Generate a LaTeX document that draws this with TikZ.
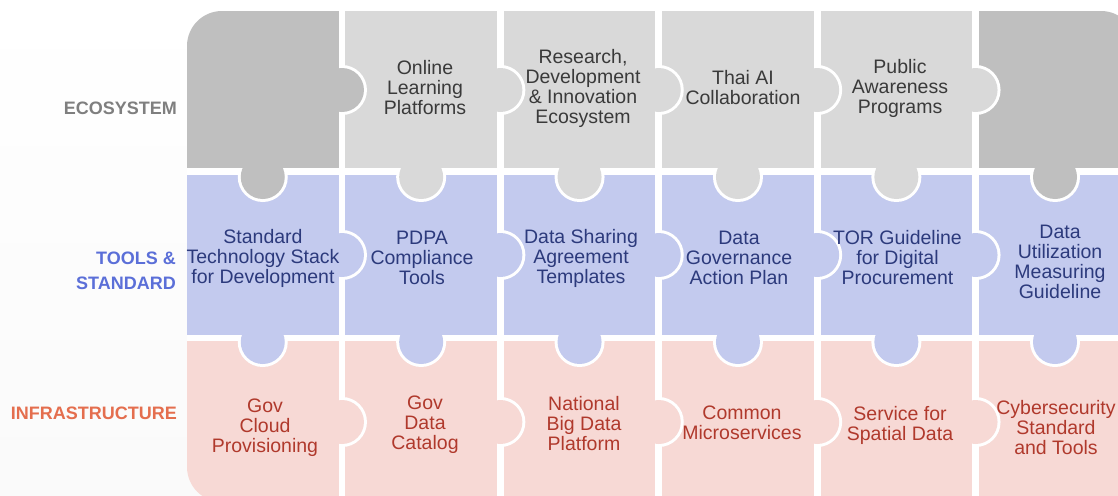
\documentclass[tikz,border=0pt]{standalone}
\usepackage{fontspec}
\setmainfont{Liberation Sans}
\definecolor{dgray}{HTML}{BFBFBF}
\definecolor{lgray}{HTML}{D9D9D9}
\definecolor{blu}{HTML}{C3CAEE}
\definecolor{pnk}{HTML}{F7D9D5}
\definecolor{tone}{HTML}{3A3A3A}
\definecolor{ttwo}{HTML}{2C3A7C}
\definecolor{tthree}{HTML}{B0392C}
\definecolor{lone}{HTML}{7F7F7F}
\definecolor{ltwo}{HTML}{5B6FD8}
\definecolor{lthree}{HTML}{E46E4E}
% horizontal knob: #1 gap centre x, #2 y, #3 colour, #4 source right edge
\newcommand\hknob[4]{%
  \fill[white] (#1,#2) circle (25pt);
  \fill[#3] (#1-26,#2-26) rectangle (#4,#2+26);
  \fill[#3] (#1,#2) circle (22pt);
  \fill[#3] (#4-1,#2-20) rectangle (#1,#2+20);
}
% vertical knob: #1 x, #2 centre y, #3 colour, #4 source bottom edge
\newcommand\vknob[4]{%
  \fill[white] (#1,#2) circle (25pt);
  \fill[#3] (#1-26,#2-26) rectangle (#1+26,#4);
  \fill[#3] (#1,#2) circle (22pt);
  \fill[#3] (#1-20,#4-1) rectangle (#1+20,#2);
}
\begin{document}
\begin{tikzpicture}[x=1pt,y=-1pt,
  txt/.style={align=center,inner sep=0pt,font=\fontsize{19.5}{20}\selectfont},
  lab/.style={align=right,inner sep=0pt,anchor=east,font=\fontsize{18}{25}\selectfont\bfseries}]
\useasboundingbox (0,0) rectangle (1118,495);
\fill[top color=white,bottom color=gray!4] (0,0) rectangle (1118,495);
\begin{scope}
\clip[rounded corners=35pt] (187,11) rectangle (1136,502);
\fill[white] (187,11) rectangle (1136,502);
% pieces
\foreach \l/\r/\c in {187/338.5/dgray,345.4/496.9/lgray,503.8/655.3/lgray,662.2/813.7/lgray,820.6/972.1/lgray,979/1136/dgray}{
  \fill[\c] (\l,11) rectangle (\r,168);
  \fill[blu] (\l,175) rectangle (\r,335);
  \fill[pnk] (\l,341) rectangle (\r,502);
}
% horizontal knobs
\foreach \g/\r/\c in {341.95/338.5/dgray,500.35/496.9/lgray,658.75/655.3/lgray,817.15/813.7/lgray,975.55/972.1/lgray}{
  \hknob{\g}{90}{\c}{\r}
  \hknob{\g}{255}{blu}{\r}
  \hknob{\g}{422}{pnk}{\r}
}
% vertical knobs
\foreach \x/\c in {262.75/dgray,421.15/lgray,579.55/lgray,737.95/lgray,896.35/lgray,1055/dgray}{
  \vknob{\x}{177}{\c}{168}
  \vknob{\x}{342}{blu}{335}
}
\end{scope}
% row labels
\node[lab,text=lone] (leco) at (177,108) {ECOSYSTEM};
\node[lab,text=ltwo] (ltool) at (176,271) {TOOLS \&\\STANDARD};
\node[lab,text=lthree] (linfra) at (177,413) {INFRASTRUCTURE};
% ecosystem row
\node[txt,text=tone] (e2) at (425,88) {Online\\Learning\\Platforms};
\node[txt,text=tone] (e3) at (583,88) {Research,\\Development\\\& Innovation\\Ecosystem};
\node[txt,text=tone] (e4) at (743,88) {Thai AI\\Collaboration};
\node[txt,text=tone] (e5) at (900,88) {Public\\Awareness\\Programs};
% tools row
\node[txt,text=ttwo] (s1) at (263,258) {Standard\\Technology Stack\\for Development};
\node[txt,text=ttwo] (s2) at (422,258) {PDPA\\Compliance\\Tools};
\node[txt,text=ttwo] (s3) at (581,258) {Data Sharing\\Agreement\\Templates};
\node[txt,text=ttwo] (s4) at (739,258) {Data\\Governance\\Action Plan};
\node[txt,text=ttwo] (s5) at (897.5,258) {TOR Guideline\\for Digital\\Procurement};
\node[txt,text=ttwo] (s6) at (1060,262) {Data\\Utilization\\Measuring\\Guideline};
% infrastructure row
\node[txt,text=tthree] (i1) at (265,428) {Gov\\Cloud\\Provisioning};
\node[txt,text=tthree] (i2) at (425,425) {Gov\\Data\\Catalog};
\node[txt,text=tthree] (i3) at (584,424) {National\\Big Data\\Platform};
\node[txt,text=tthree] (i4) at (742,423) {Common\\Microservices};
\node[txt,text=tthree] (i5) at (900,425) {Service for\\Spatial Data};
\node[txt,text=tthree] (i6) at (1056,428) {Cybersecurity\\Standard\\and Tools};
\end{tikzpicture}
\end{document}
